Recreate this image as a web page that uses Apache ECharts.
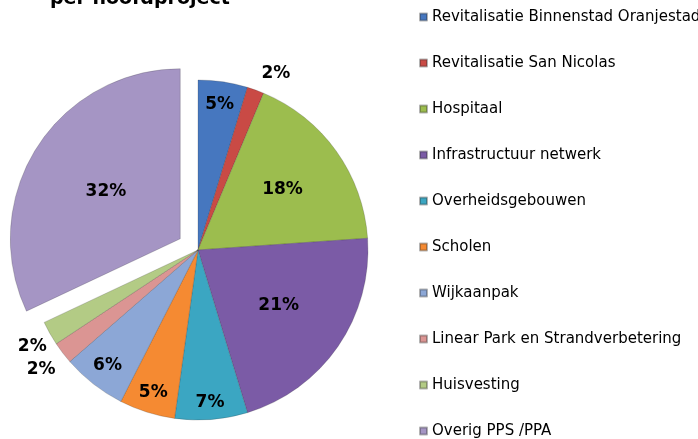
<!DOCTYPE html>
<html>
<head>
<meta charset="utf-8">
<script src="https://cdn.jsdelivr.net/npm/echarts@6/dist/echarts.min.js"></script>
<style>
  html, body { margin: 0; padding: 0; background: #fff; }
  #chart { width: 698px; height: 439px; }
</style>
</head>
<body>
<div id="chart"></div>
<script>
const categories = [
  "Revitalisatie Binnenstad Oranjestad",
  "Revitalisatie San Nicolas",
  "Hospitaal",
  "Infrastructuur netwerk",
  "Overheidsgebouwen",
  "Scholen",
  "Wijkaanpak",
  "Linear Park en Strandverbetering",
  "Huisvesting",
  "Overig PPS /PPA"
];
const shares = [4.7, 1.6, 17.6, 21.4, 6.9, 5.3, 6.1, 2.1, 2.3, 32.0];
const explodedName = "Overig PPS /PPA";

const colors = [
  "#4677bf", "#c94a45", "#9cbd4e", "#7b5ba6", "#3ba6c2",
  "#f58a32", "#8ca7d6", "#db9593", "#b3cb85", "#a595c4"
];
// distance of each percentage label from the pie centre, and a small turn (deg)
const labelRadius = [147, 193, 104, 98, 153, 149, 147, 197, 192, 120];
const labelTurn = [0, 4, 0, 0, 0, 0, 0, 0, -1, 0];

const CX = 198, CY = 250, R = 170;

const chart = echarts.init(document.getElementById("chart"));

chart.setOption({
  animation: false,
  color: colors,
  title: {
    text: "per hoofdproject",
    left: 45,
    top: -15,
    textStyle: { fontFamily: "DejaVu Sans", fontSize: 19, fontWeight: "bold", color: "#000" }
  },
  legend: {
    orient: "vertical",
    left: 419,
    top: 9,
    height: 470,
    padding: 0,
    icon: "rect",
    itemWidth: 7,
    itemHeight: 7,
    itemGap: 30,
    textStyle: { fontFamily: "DejaVu Sans", fontSize: 15, lineHeight: 16, color: "#000" },
    data: categories
  },
  series: [
    {
      type: "pie",
      center: [CX, CY],
      radius: [0, R],
      startAngle: 90,
      clockwise: true,
      selectedMode: "single",
      selectedOffset: 21,
      avoidLabelOverlap: false,
      emphasis: { disabled: true },
      itemStyle: { borderColor: "rgba(40,40,40,0.35)", borderWidth: 0.6 },
      label: {
        position: "inside",
        fontFamily: "DejaVu Sans",
        fontSize: 17,
        fontWeight: "bold",
        color: "#000",
        formatter: (p) => Math.round(p.value) + "%"
      },
      labelLine: { show: false },
      labelLayout: (p) => {
        const r = p.labelRect;
        const dx = r.x + r.width / 2 - CX;
        const dy = r.y + r.height / 2 - CY;
        const a = Math.atan2(dy, dx) + labelTurn[p.dataIndex] * Math.PI / 180;
        const d = labelRadius[p.dataIndex];
        return { x: CX + Math.cos(a) * d, y: CY + Math.sin(a) * d, align: "center", verticalAlign: "middle" };
      },
      data: categories.map((name, i) => ({
        name,
        value: shares[i],
        selected: name === explodedName
      }))
    }
  ]
});
</script>
</body>
</html>
